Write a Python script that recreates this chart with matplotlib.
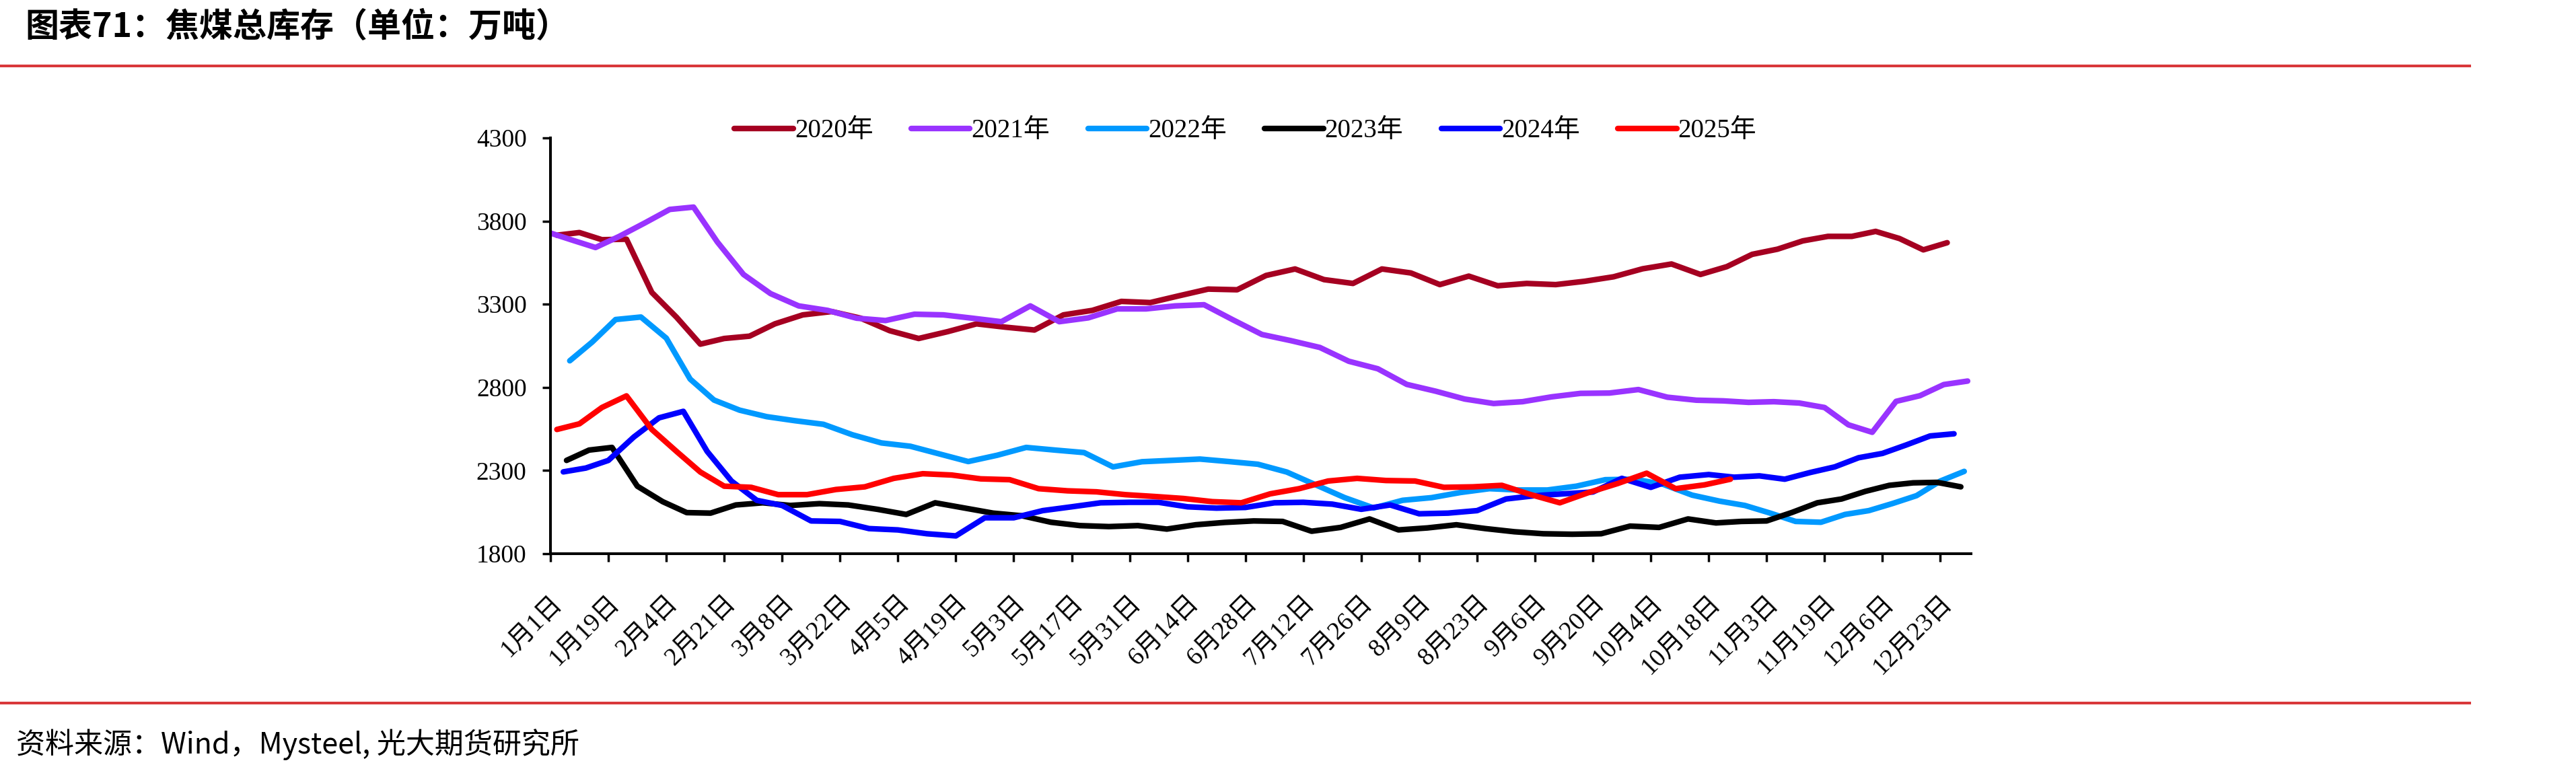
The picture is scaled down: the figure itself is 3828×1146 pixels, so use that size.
import re
import numpy as np
import pandas as pd
import matplotlib
matplotlib.use("Agg")
import matplotlib.pyplot as plt
import matplotlib.transforms as mtransforms
from matplotlib.lines import Line2D

# x-axis labels (category labels, every other weekly row)
tick_labels = ['1月1日', '1月19日', '2月4日', '2月21日', '3月8日', '3月22日', '4月5日',
               '4月19日', '5月3日', '5月17日', '5月31日', '6月14日', '6月28日', '7月12日',
               '7月26日', '8月9日', '8月23日', '9月6日', '9月20日', '10月4日', '10月18日',
               '11月3日', '11月19日', '12月6日', '12月23日']

years = [2020, 2021, 2022, 2023, 2024, 2025]
first_friday = ['2020-01-03', '2021-01-01', '2022-01-07', '2023-01-06', '2024-01-05', '2025-01-03']
colors = ['#A50021', '#9933FF', '#0099FF', '#000000', '#0000FF', '#FF0000']

# weekly coking coal total inventory, 10k tonnes
inv_2020 = [3715, 3731, 3688, 3691, 3371, 3222, 3060, 3094, 3108, 3182, 3236, 3256, 3216,
            3141, 3094, 3135, 3182, 3162, 3145, 3236, 3263, 3317, 3310, 3351, 3391, 3387,
            3473, 3512, 3448, 3425, 3512, 3488, 3418, 3469, 3411, 3425, 3418, 3438, 3465,
            3513, 3542, 3479, 3526, 3600, 3631, 3681, 3708, 3708, 3738, 3695, 3627, 3670]
inv_2021 = [3728, 3684, 3641, 3708, 3788, 3870, 3884, 3674, 3479, 3364, 3290, 3263, 3216,
            3202, 3240, 3236, 3216, 3195, 3290, 3195, 3218, 3272, 3272, 3290, 3297, 3206,
            3118, 3081, 3040, 2957, 2912, 2818, 2777, 2730, 2703, 2714, 2743, 2764, 2766,
            2787, 2741, 2723, 2719, 2710, 2714, 2706, 2679, 2575, 2530, 2716, 2750, 2817, 2838]
inv_2022 = [2960, 3073, 3208, 3223, 3096, 2850, 2724, 2663, 2624, 2600, 2578, 2515, 2466,
            2446, 2400, 2354, 2392, 2439, 2423, 2408, 2322, 2353, 2361, 2369, 2354, 2338,
            2291, 2214, 2137, 2075, 2121, 2137, 2168, 2191, 2183, 2183, 2206, 2245, 2248,
            2217, 2152, 2116, 2090, 2044, 1994, 1989, 2036, 2059, 2102, 2149, 2237, 2295]
inv_2023 = [2361, 2423, 2439, 2206, 2113, 2047, 2044, 2093, 2106, 2090, 2101, 2093, 2067,
            2036, 2106, 2075, 2044, 2028, 1989, 1969, 1963, 1969, 1948, 1974, 1988, 1997,
            1994, 1935, 1958, 2009, 1943, 1955, 1974, 1951, 1932, 1920, 1917, 1920, 1966,
            1958, 2009, 1985, 1994, 1997, 2048, 2106, 2129, 2175, 2211, 2226, 2229, 2202]
inv_2024 = [2292, 2315, 2361, 2501, 2617, 2656, 2415, 2237, 2121, 2090, 1997, 1994, 1951,
            1943, 1920, 1907, 2016, 2016, 2059, 2082, 2106, 2109, 2109, 2082, 2074, 2078,
            2106, 2109, 2098, 2067, 2093, 2040, 2044, 2059, 2129, 2149, 2160, 2171, 2253,
            2199, 2260, 2276, 2260, 2268, 2248, 2288, 2322, 2377, 2403, 2454, 2508, 2521]
inv_2025 = [2547, 2581, 2679, 2749, 2547, 2415, 2291, 2206, 2199, 2155, 2155, 2186, 2202,
            2253, 2281, 2273, 2250, 2245, 2191, 2178, 2172, 2155, 2144, 2132, 2113, 2106,
            2160, 2191, 2237, 2253, 2240, 2237, 2199, 2202, 2211, 2155, 2106, 2168, 2222,
            2284, 2191, 2214, 2248]
series = [inv_2020, inv_2021, inv_2022, inv_2023, inv_2024, inv_2025]

label_md = [tuple(int(v) for v in re.match(r'(\d+)月(\d+)日', s).groups()) for s in tick_labels]


def anchors(year):
    doy = [pd.Timestamp(year, m, d).dayofyear for m, d in label_md]
    doy.append(doy[-1] + (doy[-1] - doy[-2]))
    return np.array(doy), np.arange(len(doy))


def axis_pos(dates):
    xp, fp = anchors(dates[0].year)
    return np.interp(dates.dayofyear, xp, fp)


W, H = 3828, 1146
fig = plt.figure(figsize=(W / 100, H / 100), dpi=100)
ax = fig.add_axes([818 / W, 1 - 823 / H, (2929 - 818) / W, 618 / H])

for yr, start, vals, col in zip(years, first_friday, series, colors):
    dates = pd.date_range(start, periods=len(vals), freq='7D')
    ax.plot(axis_pos(dates), vals, color=col, lw=6, solid_capstyle='round',
            label=f'{yr}年')

xp, fp = anchors(2021)
ax.set_xlim(0, np.interp(366, xp, fp))
ax.set_ylim(1800, 4300)
ax.set_yticks(np.arange(1800, 4301, 500))
ax.set_xticks(np.arange(len(tick_labels)))

serif = ['Liberation Serif', 'Noto Sans CJK SC']
ax.set_xticklabels(tick_labels, family=serif, fontsize=27, rotation=45,
                   ha='right', va='top', rotation_mode='anchor')
shift = mtransforms.ScaledTranslation(12 / 100, 0, fig.dpi_scale_trans)
for t in ax.get_xticklabels():
    t.set_transform(t.get_transform() + shift)
for t in ax.get_yticklabels():
    t.set_family(serif)
    t.set_fontsize(27)

for s in ['top', 'right']:
    ax.spines[s].set_visible(False)
for s in ['left', 'bottom']:
    ax.spines[s].set_linewidth(2.9)
    ax.spines[s].set_color('black')
ax.tick_params(axis='both', direction='out', length=8.5, width=2.5, color='black')
ax.tick_params(axis='y', pad=17)
ax.tick_params(axis='x', pad=32)

leg = fig.legend(loc='center', bbox_to_anchor=(0.4835, 0.830), ncol=6, frameon=False,
                 prop={'family': serif, 'size': 28}, handlelength=2.25,
                 handletextpad=0.05, columnspacing=1.45)

fig.text(37 / W, 1 - 40 / H, '图表71：焦煤总库存（单位：万吨）', fontsize=36,
         fontweight='bold', family=['Noto Sans CJK SC'], ha='left', va='center')
fig.text(24 / W, 1 - 1107 / H, '资料来源：Wind，Mysteel, 光大期货研究所', fontsize=31,
         family=['Noto Sans CJK SC'], ha='left', va='center')

red = '#D9383A'
fig.add_artist(Line2D([0, 3670 / W], [1 - 97.6 / H] * 2, color=red, lw=2.9,
                      transform=fig.transFigure))
fig.add_artist(Line2D([0, 3670 / W], [1 - 1045 / H] * 2, color=red, lw=2.9,
                      transform=fig.transFigure))

fig.savefig('out.png', dpi=100, facecolor='white')
